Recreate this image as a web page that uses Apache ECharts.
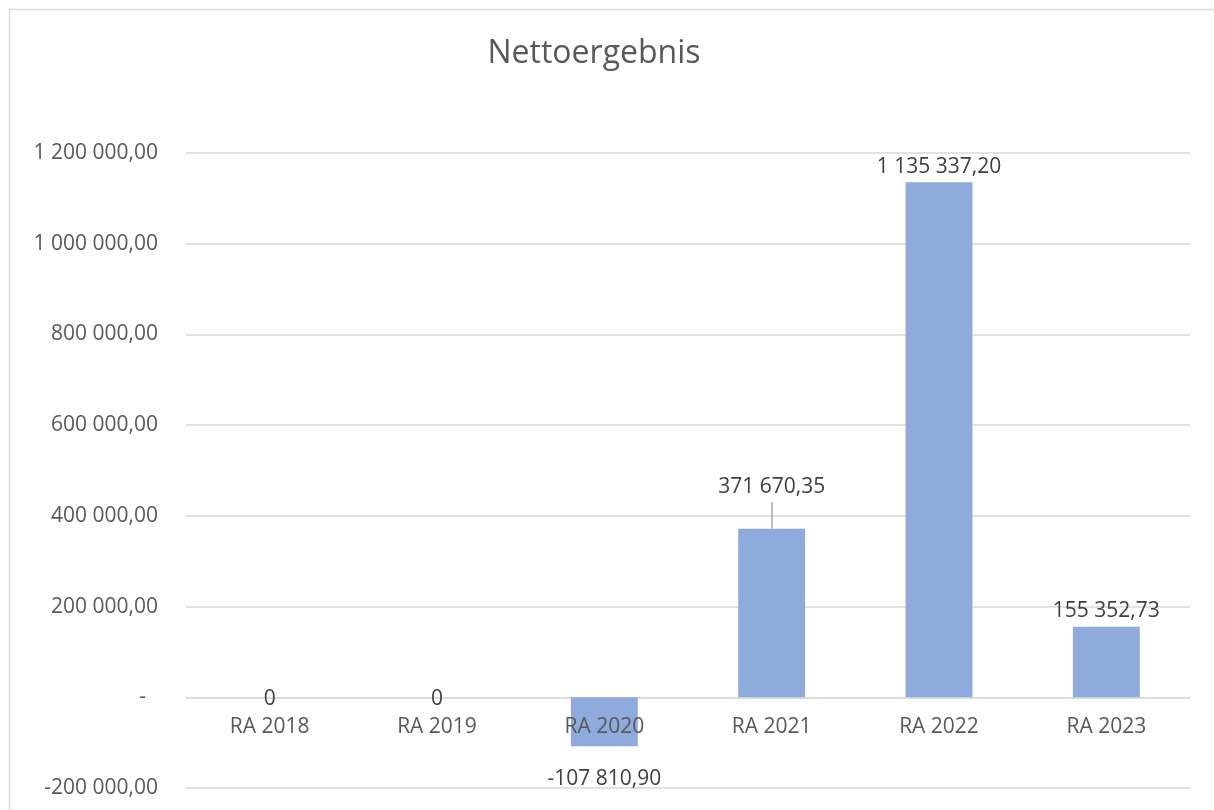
<!DOCTYPE html>
<html>
<head>
<meta charset="utf-8">
<script src="https://cdn.jsdelivr.net/npm/echarts@6/dist/echarts.min.js"></script>
<style>
  html, body { margin: 0; padding: 0; background: #fff; }
  #chart { width: 1214px; height: 810px; }
</style>
</head>
<body>
<div id="chart"></div>
<script>
// === DATA ===
const categories = ['RA 2018', 'RA 2019', 'RA 2020', 'RA 2021', 'RA 2022', 'RA 2023'];
const nettoergebnis = [0, 0, -107810.90, 371670.35, 1135337.20, 155352.73];
const yTicks = { min: -200000, max: 1200000, step: 200000 };
const leaderEnd = 430000; // top of the label leader line for RA 2021

const textColor = '#595959';
const fontFamily = '"Open Sans", sans-serif';

// 1 200 000,00 style
function fmt(v) {
    const parts = Math.abs(v).toFixed(2).split('.');
    const intPart = parts[0].replace(/\B(?=(\d{3})+(?!\d))/g, ' ');
    return (v < 0 ? '-' : '') + intPart + ',' + parts[1];
}

// label placement per bar (Excel moved some labels around)
function labelFor(v, i) {
    if (v === 0) return { position: 'inside', offset: [0, 2] };
    if (v < 0) return { position: 'bottom', distance: 22 };
    if (i === 3) return { position: 'top', distance: 31 };
    return { position: 'top', distance: 5 };
}

const barData = nettoergebnis.map((v, i) => ({ value: v, label: labelFor(v, i) }));
// category names sit on the zero line (Excel axis crosses at 0)
const axisNameData = categories.map(c => [c, 0]);

const chart = echarts.init(document.getElementById('chart'));
chart.setOption({
    animation: false,
    backgroundColor: '#fff',
    textStyle: { fontFamily: fontFamily },
    graphic: [{
        type: 'rect',
        shape: { x: 9.5, y: 9.5, width: 1230, height: 830 },
        style: { fill: 'none', stroke: '#d9d9d9', lineWidth: 1.5 },
        silent: true
    }],
    title: {
        text: 'Nettoergebnis',
        left: 589,
        top: 33,
        textAlign: 'center',
        textStyle: { color: textColor, fontSize: 32, fontWeight: 'normal', fontFamily: fontFamily }
    },
    grid: { left: 186, right: 24, top: 153, bottom: 22, containLabel: false, outerBoundsMode: 'none' },
    xAxis: {
        type: 'category',
        data: categories,
        axisLine: { onZero: true, lineStyle: { color: '#d9d9d9', width: 1.5 } },
        axisTick: { show: false },
        axisLabel: { show: false }
    },
    yAxis: {
        type: 'value',
        min: yTicks.min,
        max: yTicks.max,
        interval: yTicks.step,
        axisLine: { show: false },
        axisTick: { show: false },
        splitLine: { lineStyle: { color: '#d9d9d9', width: 1.5 } },
        axisLabel: {
            color: textColor,
            fontSize: 21,
            margin: 28,
            fontFamily: fontFamily,
            formatter: v => v === 0 ? '{dash|-}' : fmt(v),
            rich: { dash: { color: textColor, fontSize: 21, padding: [0, 12, 0, 0] } }
        }
    },
    series: [{
        type: 'bar',
        data: barData,
        barWidth: '40%',
        itemStyle: { color: '#8faadc' },
        label: {
            show: true,
            color: '#404040',
            fontSize: 21,
            fontFamily: fontFamily,
            formatter: p => p.value === 0 ? '0' : fmt(p.value)
        },
        markLine: {
            silent: true,
            symbol: 'none',
            label: { show: false },
            lineStyle: { color: '#a6a6a6', width: 1.5, type: 'solid' },
            data: [[
                { coord: [categories[3], nettoergebnis[3]] },
                { coord: [categories[3], leaderEnd] }
            ]]
        }
    }, {
        // category labels drawn at the zero line
        type: 'scatter',
        data: axisNameData,
        symbolSize: 0,
        silent: true,
        z: 10,
        itemStyle: { opacity: 1 },
        label: {
            show: true,
            position: 'bottom',
            distance: 19,
            color: textColor,
            opacity: 1,
            fontSize: 21,
            fontFamily: fontFamily,
            formatter: p => p.value[0]
        }
    }]
});
window.addEventListener('resize', () => chart.resize());
</script>
</body>
</html>
